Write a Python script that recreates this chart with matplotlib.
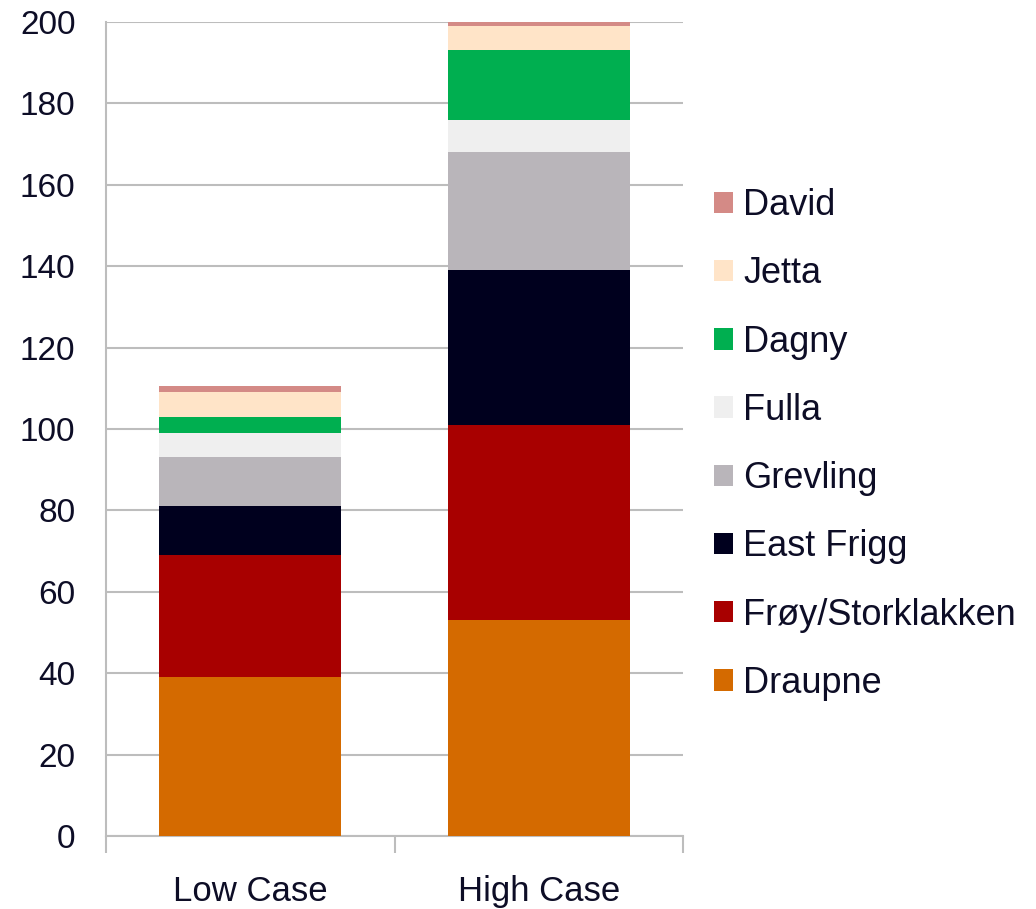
import numpy as np
import matplotlib.pyplot as plt
from matplotlib.patches import Patch

plt.rcParams['font.family'] = ['Liberation Sans', 'DejaVu Sans']

# data
cases = ['Low Case', 'High Case']
fields = ['Draupne', 'Frøy/Storklakken', 'East Frigg', 'Grevling',
          'Fulla', 'Dagny', 'Jetta', 'David']
draupne = [39, 53]
froy = [30, 48]
east_frigg = [12, 38]
grevling = [12, 29]
fulla = [6, 8]
dagny = [4, 17]
jetta = [6, 6]
david = [1.5, 1]
yticks = [0, 20, 40, 60, 80, 100, 120, 140, 160, 180, 200]

series = [draupne, froy, east_frigg, grevling, fulla, dagny, jetta, david]
colors = ['#D46A00', '#A80000', '#00001E', '#B9B5BA',
          '#EFEFEF', '#00AF50', '#FFE4C8', '#D48A86']

text_col = '#0D0D26'
grid_col = '#BDBDBD'

fig = plt.figure(figsize=(10.36, 9.09), dpi=100)
ax = fig.add_axes([0.1023, 0.0803, 0.557, 0.8955])

x = np.arange(len(cases))
bottom = np.zeros(len(cases))
for vals, col, name in zip(series, colors, fields):
    ax.bar(x, vals, 0.632, bottom=bottom, color=col, label=name,
           zorder=3, linewidth=0)
    bottom += np.array(vals)

ax.set_xlim(-0.5, 1.5)
ax.set_ylim(0, 200)
ax.set_yticks(yticks)
ax.set_yticklabels([str(t) for t in yticks])
ax.yaxis.grid(True, color=grid_col, linewidth=1.5, zorder=0)

ax.set_xticks(x)
ax.set_xticklabels(cases)
ax.set_xticks([-0.5, 0.5, 1.5], minor=True)
ax.tick_params(axis='x', which='major', length=0, pad=28,
               labelsize=25, labelcolor=text_col)
ax.tick_params(axis='x', which='minor', length=12, width=1.5, color=grid_col)
ax.tick_params(axis='y', length=0, pad=22,
               labelsize=24, labelcolor=text_col)

for s in ['top', 'right']:
    ax.spines[s].set_visible(False)
for s in ['left', 'bottom']:
    ax.spines[s].set_color(grid_col)
    ax.spines[s].set_linewidth(1.5)

handles = [Patch(facecolor=c, edgecolor='none') for c in colors][::-1]
labels = fields[::-1]
fig.legend(handles, labels, loc='center left',
           bbox_to_anchor=(0.675, 0.511), frameon=False,
           fontsize=26, labelcolor=text_col,
           handlelength=0.53, handleheight=0.53, handletextpad=0.28,
           labelspacing=0.92, borderaxespad=0)

fig.savefig('out.png', dpi=100)
